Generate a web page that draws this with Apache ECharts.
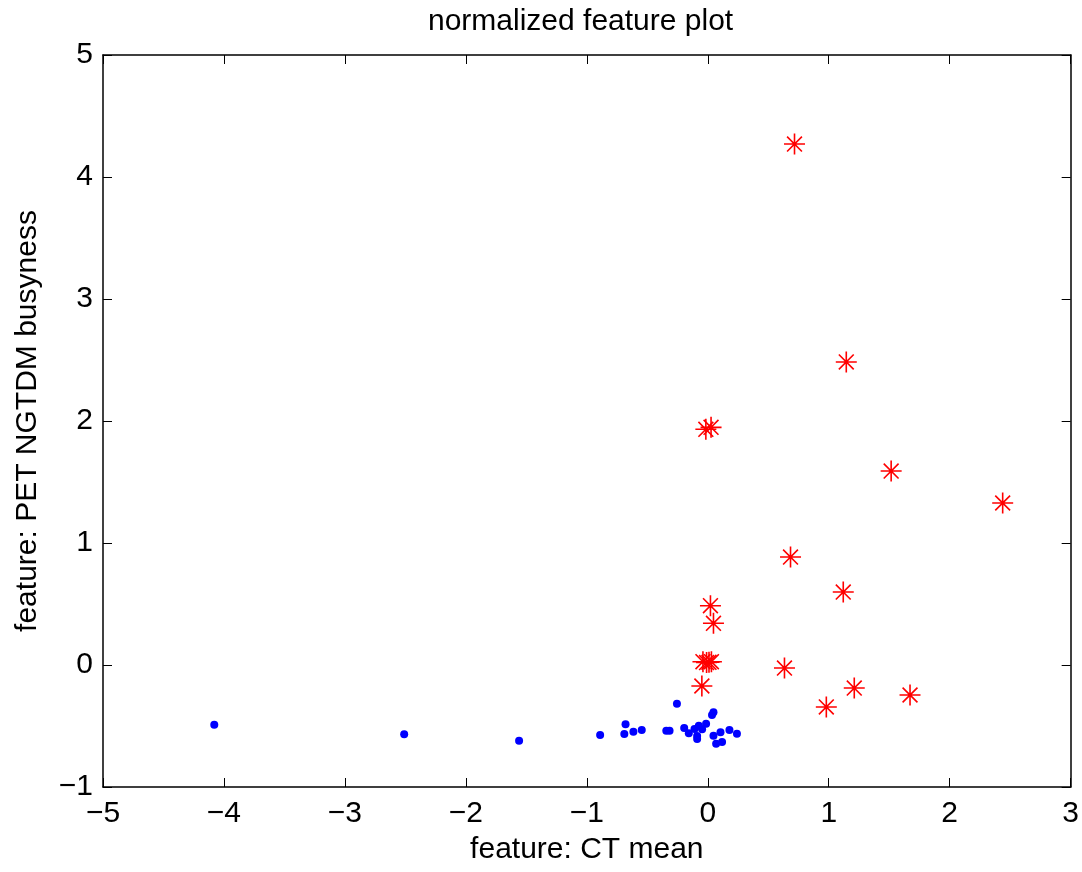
<!DOCTYPE html>
<html>
<head>
<meta charset="utf-8">
<script src="https://cdn.jsdelivr.net/npm/echarts@6/dist/echarts.min.js"></script>
<style>
  html, body { margin: 0; padding: 0; background: #fff; }
  #chart { width: 1082px; height: 872px; }
</style>
</head>
<body>
<div id="chart"></div>
<script>
// blue dots: [CT mean, PET NGTDM busyness]
var blueX = [-4.08, -2.51, -1.56, -0.89, -0.68, -0.69, -0.615, -0.546, -0.343, -0.316, -0.255,
             -0.195, -0.157, -0.11, -0.088, -0.088, -0.074, -0.047, -0.014, 0.035, 0.047,
             0.047, 0.105, 0.069, 0.118, 0.179, 0.241];
var blueY = [-0.49, -0.568, -0.62, -0.574, -0.485, -0.566, -0.547, -0.533, -0.539, -0.539, -0.317,
             -0.516, -0.56, -0.525, -0.582, -0.607, -0.498, -0.527, -0.481, -0.41, -0.388,
             -0.58, -0.552, -0.645, -0.631, -0.533, -0.563];
// red stars
var redX = [0.717, 1.145, 1.516, 2.438, 0.684, 1.12, 0.634, 1.211, 1.672, 0.98,
            -0.016, 0.027, 0.022, 0.047, -0.04, -0.01, 0.01, 0.03, -0.049];
var redY = [4.27, 2.484, 1.59, 1.328, 0.885, 0.598, -0.025, -0.189, -0.246, -0.344,
            1.932, 1.948, 0.486, 0.342, 0.027, 0.02, 0.022, 0.027, -0.172];
var xTicks = [-5, 3, 1];   // min, max, step
var yTicks = [-1, 5, 1];

function pairs(xs, ys) {
  var out = [];
  for (var i = 0; i < xs.length; i++) out.push([xs[i], ys[i]]);
  return out;
}
function minus(v) { return String(v).replace('-', '\u2212'); }

var font = 'Liberation Sans, Arial, Helvetica, sans-serif';
var star = 'path://M0,10L20,10M10,0L10,20M2.93,2.93L17.07,17.07M17.07,2.93L2.93,17.07';

var chart = echarts.init(document.getElementById('chart'));
var axisLine = { show: true, onZero: false, lineStyle: { color: '#000', width: 1.5 } };
var tick = { show: true, inside: true, length: 9, lineStyle: { color: '#000', width: 1 } };

var option = {
  animation: false,
  backgroundColor: '#fff',
  grid: { left: 103, right: 8, top: 55, bottom: 85 },
  graphic: [{
    type: 'text', left: 588 - 160, top: 7,
    style: { text: 'normalized feature plot', font: '30px ' + font, fill: '#000' }
  }],
  xAxis: [{
    type: 'value', min: xTicks[0], max: xTicks[1], interval: xTicks[2], position: 'bottom',
    name: 'feature: CT mean', nameLocation: 'middle', nameGap: 48,
    nameTextStyle: { fontSize: 30, fontFamily: font, color: '#000' },
    axisLine: axisLine, axisTick: tick, splitLine: { show: false },
    axisLabel: { fontSize: 30, fontFamily: font, color: '#000', margin: 12, formatter: minus }
  }, {
    type: 'value', min: xTicks[0], max: xTicks[1], interval: xTicks[2], position: 'top',
    axisLine: axisLine, axisTick: tick, splitLine: { show: false }, axisLabel: { show: false }
  }],
  yAxis: [{
    type: 'value', min: yTicks[0], max: yTicks[1], interval: yTicks[2], position: 'left',
    name: 'feature: PET NGTDM busyness', nameLocation: 'middle', nameGap: 60,
    nameTextStyle: { fontSize: 30, fontFamily: font, color: '#000' },
    axisLine: axisLine, axisTick: tick, splitLine: { show: false },
    axisLabel: { fontSize: 30, fontFamily: font, color: '#000', margin: 10, formatter: minus }
  }, {
    type: 'value', min: yTicks[0], max: yTicks[1], interval: yTicks[2], position: 'right',
    axisLine: axisLine, axisTick: tick, splitLine: { show: false }, axisLabel: { show: false }
  }],
  series: [{
    type: 'scatter', data: pairs(blueX, blueY),
    symbol: 'circle', symbolSize: 8,
    itemStyle: { color: '#0000ff', opacity: 1 }
  }, {
    type: 'scatter', data: pairs(redX, redY),
    symbol: star, symbolSize: 21,
    itemStyle: { color: 'none', borderColor: '#ff0000', borderWidth: 1.6, opacity: 1 }
  }]
};
chart.setOption(option);
</script>
</body>
</html>
